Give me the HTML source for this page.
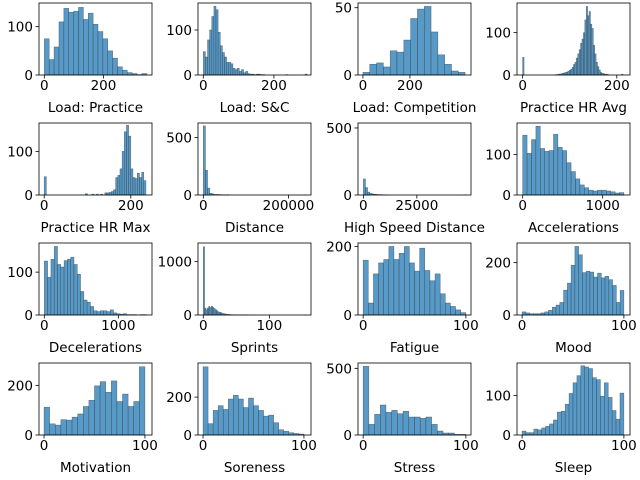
<!DOCTYPE html>
<html><head><meta charset="utf-8"><style>
html,body{margin:0;padding:0;background:#fff;}
svg{display:block;font-family:"DejaVu Sans","Liberation Sans",sans-serif;}
</style></head><body>
<svg id="fig" width="640" height="480" viewBox="0 0 640 480" xmlns="http://www.w3.org/2000/svg"></svg>
<script>
// ---- data (counts per bin) ----
const titles = ["Load: Practice","Load: S&C","Load: Competition","Practice HR Avg","Practice HR Max","Distance","High Speed Distance","Accelerations","Decelerations","Sprints","Fatigue","Mood","Motivation","Soreness","Stress","Sleep"];
const countsLoadPractice = [75,32,58,110,138,130,132,140,115,128,105,90,75,50,35,17,10,5,3,1,3];
const countsLoadSC = [52,40,78,100,130,153,145,95,65,50,40,28,28,25,15,12,15,8,12,5,8,3,2,2,1,2,2,1,1,0,0,0,0,0,0,0,0,0,0,1,0,0,0,0,0,0,0,0,2];
const countsLoadCompetition = [2,8,9,6,18,17,26,42,49,51,32,15,8,3,2];
const countsHRAvg = [42,0,0,0,0,0,0,0,0,0,0,0,0,0,0,0,0,0,0,0,0,0,0,1,1,2,2,3,4,5,6,7,9,11,14,18,25,30,40,50,60,75,85,100,130,162,140,150,120,110,70,50,30,20,12,6,4,3,2,2,1,0,0,0,0,0,0,0,0,0,2];
const countsHRMax = [42,0,0,0,0,0,0,0,0,0,0,0,0,0,0,0,0,0,0,3,0,0,2,0,2,0,2,0,5,5,6,8,12,40,45,60,100,145,160,135,60,40,38,50,40,52,33];
const countsDistance = [600,215,60,15,10,5,5,4,3,2,1,3,0,0,0,0,0,0,0,0,0,0,0,0,0,0,0,0,0,0,0,0,0,0,0,0,0,0,0,0,0,0,0,0,0,0,0,1];
const countsHSD = [120,55,22,12,8,6,4,3,3,2,1,1,0,0,0,0,0,0,0,0,0,0,0,0,0,0,0,0,0,0,0,0,0,0,0,0,0,0,0,0,0,0,0,0,0,0,0,1];
const countsAccel = [148,103,137,170,115,108,110,150,118,110,80,58,40,25,18,12,10,12,12,10,8,5,6];
const countsDecel = [126,88,130,160,118,112,127,130,135,118,95,55,35,30,20,10,8,10,10,8,12,5,3,2,3,1,1,1,0,1,1];
const countsSprints = [1280,130,100,130,160,140,165,140,120,100,80,60,50,45,30,25,20,15,12,10,8,6,5,5,5,4,3,3,3,2,2,5,1,1,1,0,1,0,0,1,0,0,0,0,0,0,0,0,0,0,0,0,0,0,0,0,0,0,0,0,0,0,0,0,0,0,0,0,0,0,0,0,0,0,0,0,0,1];
const countsFatigue = [160,35,120,152,162,200,162,180,200,152,128,195,130,100,120,62,35,25,15,7];
const countsMood = [12,8,5,5,5,8,12,18,30,38,48,95,122,190,262,230,162,167,164,145,160,142,148,135,113,48,94];
const countsMotivation = [112,45,40,62,60,72,85,115,140,198,215,172,218,135,165,115,135,275];
const countsSoreness = [360,60,130,155,135,190,210,190,145,195,155,130,100,105,65,28,20,12,8,5];
const countsStress = [515,80,155,225,170,185,160,178,135,135,125,135,80,30,15,15,5,5];
const countsSleep = [10,6,6,15,13,18,22,28,38,58,60,78,105,132,150,175,172,168,145,140,98,132,95,62,40,106];
const allCounts = [countsLoadPractice,countsLoadSC,countsLoadCompetition,countsHRAvg,countsHRMax,countsDistance,countsHSD,countsAccel,countsDecel,countsSprints,countsFatigue,countsMood,countsMotivation,countsSoreness,countsStress,countsSleep];
const binStarts = [0,0,0,0,0,0,0,0,0,0,0,0,0,0,0,0];
const binWidths = [16.5,6,29,3,5,5000,1000,55,44.5,2,5,100/27,100/18,5,100/18,100/26];
const xTickVals = [[0,200],[0,200],[0,200],[0,200],[0,200],[0,200000],[0,25000],[0,1000],[0,1000],[0,100],[0,100],[0,100],[0,100],[0,100],[0,100],[0,100]];
const yTickVals = [[0,100],[0,100],[0,50],[0,100],[0,100],[0,500],[0,500],[0,100],[0,100],[0,1000],[0,200],[0,200],[0,200],[0,200],[0,500],[0,100]];
const xLims = [[-18,364],[-15,305],[-21,460],[-12,228],[-12,249],[-12500,253000],[-2500,50300],[-71,1341],[-72,1455],[-8,163],[-5,105],[-5,106],[-5,107],[-5,107],[-5,105],[-5,106]];
const yMaxes = [149,160,53.5,170,165,625,537,178,168,1350,210,275,290,380,540,182];

const svg = document.getElementById('fig');
const NS = "http://www.w3.org/2000/svg";
const colL = [39,198,358,517], colR = [152,311,471,630];
function mk(tag, attrs){ const e=document.createElementNS(NS,tag); for(const k in attrs) e.setAttribute(k,attrs[k]); return e; }
function slug(s){ return s.toLowerCase().replace(/[^a-z0-9]+/g,'-').replace(/^-|-$/g,''); }

for(let p=0;p<16;p++){
  const r=Math.floor(p/4), c=p%4;
  const L=colL[c], R=colR[c], T=3+120*r, B=75+120*r;
  const [x0,x1]=xLims[p], yM=yMaxes[p];
  const sx=v=>L+(v-x0)/(x1-x0)*(R-L);
  const sy=v=>B-v/yM*(B-T);
  const g=mk('g',{});
  
  
  svg.appendChild(g);
  const counts=allCounts[p];
  for(let i=0;i<counts.length;i++){
    if(counts[i]<=0) continue;
    const a=binStarts[p]+i*binWidths[p], b=a+binWidths[p];
    const rect=mk('rect',{x:sx(a),y:sy(counts[i]),width:Math.max(sx(b)-sx(a),0.6),height:B-sy(counts[i]),fill:'#5799c7',stroke:'#2a2a2a','stroke-width':0.5,'stroke-opacity':0.6});
    
    
    g.appendChild(rect);
  }
  const frame=mk('rect',{x:L,y:T,width:R-L,height:B-T,fill:'none',stroke:'#000','stroke-width':0.8});
  
  
  g.appendChild(frame);
  xTickVals[p].forEach(v=>{
    const x=sx(v);
    const t=mk('line',{x1:x,x2:x,y1:B,y2:B+3.5,stroke:'#000','stroke-width':0.8});
    
    
    g.appendChild(t);
    const tx=mk('text',{x:x,y:B+15,'text-anchor':'middle','font-size':13.5,fill:'#000'});
    tx.textContent=String(v);
    
    
    g.appendChild(tx);
  });
  yTickVals[p].forEach(v=>{
    const y=sy(v);
    const t=mk('line',{x1:L-3.5,x2:L,y1:y,y2:y,stroke:'#000','stroke-width':0.8});
    
    
    g.appendChild(t);
    const tx=mk('text',{x:L-6,y:y+5,'text-anchor':'end','font-size':13.5,fill:'#000'});
    tx.textContent=String(v);
    
    
    g.appendChild(tx);
  });
  const xl=mk('text',{x:(L+R)/2,y:B+37,'text-anchor':'middle','font-size':13.5,fill:'#000'});
  xl.textContent=titles[p];
  
  
  g.appendChild(xl);
}
</script>
</body></html>
